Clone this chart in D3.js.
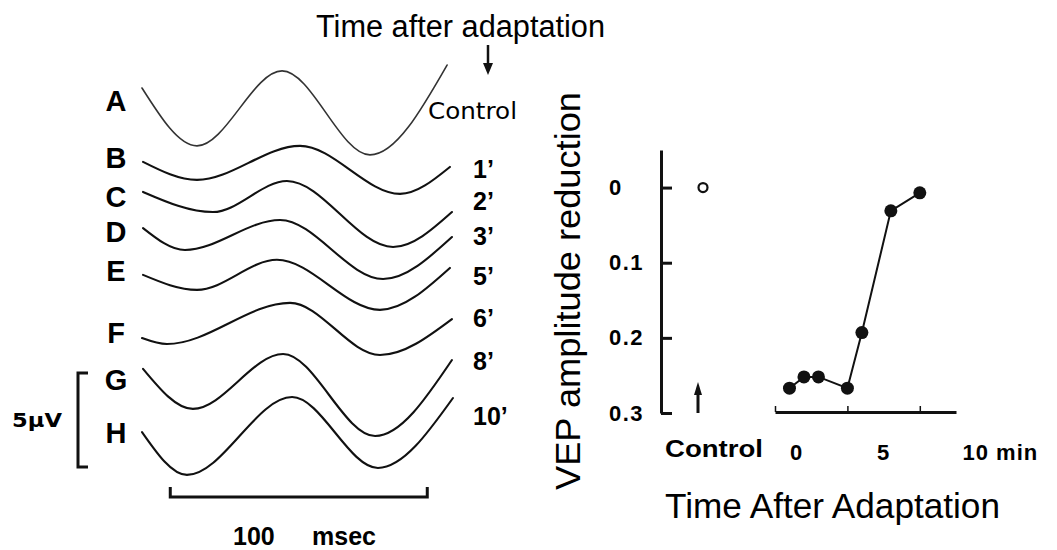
<!DOCTYPE html>
<html><head><meta charset="utf-8">
<script src="https://cdn.jsdelivr.net/npm/d3@7"></script>
<style>body{margin:0;background:#fff} svg{display:block}</style>
</head><body>
<svg id="c" width="1057" height="550"></svg>
<script>
// ---------------- data ----------------
const traceLetters = ["A","B","C","D","E","F","G","H"];
const traceTimeLabels = ["Control","1’","2’","3’","5’","6’","8’","10’"];
// VEP traces: [msec, µV relative to the trace's own baseline]
const traceA = [[0,0.69],[21.4,-2.39],[54.5,1.60],[88.7,-2.87],[118.7,1.91]];
const traceB = [[0.4,-0.21],[21.4,-1.17],[61.5,0.64],[100.4,-1.91],[119.8,-0.48]];
const traceC = [[0.4,0.27],[27.6,-0.80],[56.4,0.85],[97.7,-2.66],[120.6,-0.80]];
const traceD = [[0.4,0.21],[16.7,-0.96],[53.7,0.64],[93.8,-2.50],[120.6,-0.27]];
const traceE = [[0.4,-0.21],[21.4,-1.01],[52.5,0.59],[92.6,-2.07],[119.8,0.16]];
const traceF = [[0,-0.27],[9.7,-0.59],[57.6,1.60],[92.6,-1.17],[120.6,0.74]];
const traceG = [[0.4,0.59],[19.8,-1.54],[54.9,1.38],[90.7,-2.98],[120.6,1.06]];
const traceH = [[0,0.05],[17.5,-2.23],[58.4,1.91],[91.8,-1.86],[121,1.86]];
// vertical display offset of each trace (µV)
const traceOffsets = [19.47,16.44,14.36,12.5,10.43,7.13,4.63,1.81];
const scaleBarMsec = [11,111];
const scaleBarMicroV = [0,5];

// recovery curve
const recoveryMinutes = [1,2,3,5,6,8,10];
const recoveryReduction = [0.267,0.252,0.252,0.267,0.193,0.031,0.007];
const controlReduction = [0];
const yTicks = [0,0.1,0.2,0.3];
const xTicks = [0,5,10];
const xTickLabels = ["0","5","10 min"];

// ---------------- drawing ----------------
const svg = d3.select("#c");
const FONT = "'Liberation Sans', Arial, sans-serif";
const traces = [traceA,traceB,traceC,traceD,traceE,traceF,traceG,traceH];

const xT = d3.scaleLinear().domain([0,100]).range([142,399]);
const yT = d3.scaleLinear().domain([0,5]).range([467,373]);

const left = svg.append("g");
traces.forEach((tr,i)=>{
  const off = traceOffsets[i];
  const line = d3.line().x(d=>xT(d[0])).y(d=>yT(d[1]+off)).curve(d3.curveMonotoneX);
  left.append("path").attr("d", line(tr)).attr("fill","none")
    .attr("stroke", i===0 ? "#333" : "#111").attr("stroke-width", i===0 ? 1.6 : 2.1)
    .attr("stroke-linecap","round");
  left.append("text").attr("x",116).attr("y",yT(off)).attr("dy","0.35em")
    .attr("text-anchor","middle").attr("font-family",FONT).attr("font-weight","bold")
    .attr("font-size",29).attr("fill","#000").text(traceLetters[i]);
});

// time labels at right of traces
const timeLabelBaselines = [178,210,245,285,327,370,425];
traceTimeLabels.slice(1).forEach((t,i)=>{
  left.append("text").attr("x",473).attr("y",timeLabelBaselines[i])
    .attr("font-family",FONT).attr("font-weight","bold").attr("font-size",25).text(t);
});
left.append("text").attr("x",428).attr("y",119).attr("font-family","'DejaVu Sans', sans-serif")
  .attr("font-size",23).attr("textLength",89).attr("lengthAdjust","spacingAndGlyphs").text(traceTimeLabels[0]);

// title and arrow
svg.append("text").attr("x",316).attr("y",37).attr("font-family",FONT).attr("font-size",31)
  .attr("textLength",289).attr("lengthAdjust","spacingAndGlyphs").text("Time after adaptation");
svg.append("line").attr("x1",488).attr("x2",488).attr("y1",45).attr("y2",66).attr("stroke","#111").attr("stroke-width",2.5);
svg.append("path").attr("d","M483,63 L493,63 L488,75 Z").attr("fill","#111");

// 100 msec scale bar
const barY = 497;
svg.append("path").attr("d",`M${xT(scaleBarMsec[0])},${barY-10} L${xT(scaleBarMsec[0])},${barY} L${xT(scaleBarMsec[1])},${barY} L${xT(scaleBarMsec[1])},${barY-10}`)
  .attr("fill","none").attr("stroke","#111").attr("stroke-width",3);
svg.append("text").attr("x",233).attr("y",545).attr("font-family",FONT).attr("font-weight","bold").attr("font-size",25).text("100");
svg.append("text").attr("x",312).attr("y",545).attr("font-family",FONT).attr("font-weight","bold").attr("font-size",25).text("msec");

// 5 µV bracket
svg.append("path").attr("d",`M88,${yT(scaleBarMicroV[1])} L78,${yT(scaleBarMicroV[1])} L78,${yT(scaleBarMicroV[0])} L88,${yT(scaleBarMicroV[0])}`)
  .attr("fill","none").attr("stroke","#111").attr("stroke-width",3);
svg.append("text").attr("x",12).attr("y",427).attr("font-family","'DejaVu Sans', sans-serif")
  .attr("font-size",20).attr("font-weight","bold").attr("textLength",50).attr("lengthAdjust","spacingAndGlyphs").text("5μV");

// ---------------- right chart ----------------
const y = d3.scaleLinear().domain([-0.05,0.3]).range([150,413]);
const x = d3.scaleLinear().domain([0,12.5]).range([775,956]);
const xLab = d3.scaleLinear().domain([0,10]).range([796,970]);
const xCtrl = d3.scalePoint().domain(["Control"]).range([690,716]);

const yAx = svg.append("g").attr("transform","translate(661,0)")
  .call(d3.axisLeft(y).tickValues(yTicks).tickSize(-11).tickSizeOuter(0).tickFormat(d=>d===0?"0":d3.format(".1f")(d)));
yAx.select(".domain").attr("stroke","#111").attr("stroke-width",3);
yAx.selectAll(".tick line").attr("stroke","#111").attr("stroke-width",3);
yAx.selectAll(".tick text").attr("x",-52).attr("text-anchor","start")
  .attr("font-family",FONT).attr("font-weight","bold").attr("font-size",22).attr("fill","#000")
  .attr("letter-spacing",1.5);

const xAx = svg.append("g").attr("transform","translate(0,412)")
  .call(d3.axisBottom(x).tickValues(xTicks).tickSize(-6).tickSizeOuter(0).tickFormat(""));
xAx.select(".domain").attr("stroke","#111").attr("stroke-width",3);
xAx.selectAll(".tick line").attr("stroke","#111").attr("stroke-width",1.5);

const xLabAx = svg.append("g").attr("transform","translate(0,441)")
  .call(d3.axisBottom(xLab).tickValues(xTicks).tickSize(0).tickFormat((d,i)=>xTickLabels[i]));
xLabAx.select(".domain").remove();
xLabAx.selectAll(".tick text").attr("font-family",FONT).attr("font-weight","bold").attr("font-size",22)
  .attr("fill","#000").attr("dy","0.71em").attr("letter-spacing",1);
xLabAx.selectAll(".tick text").filter((d,i)=>i===2).attr("text-anchor","start").attr("dx",-8);

// control label
svg.append("text").attr("x",xCtrl("Control")+11).attr("y",457).attr("text-anchor","middle")
  .attr("font-family",FONT).attr("font-weight","bold").attr("font-size",24)
  .attr("textLength",98).attr("lengthAdjust","spacingAndGlyphs").text("Control");

// recovery line and points
const pts = recoveryMinutes.map((m,i)=>[m,recoveryReduction[i]]);
svg.append("path").attr("d", d3.line().x(d=>x(d[0])).y(d=>y(d[1]))(pts))
  .attr("fill","none").attr("stroke","#111").attr("stroke-width",2);
svg.selectAll("circle.pt").data(pts).join("circle").attr("class","pt")
  .attr("cx",d=>x(d[0])).attr("cy",d=>y(d[1])).attr("r",6.5).attr("fill","#111");
svg.selectAll("circle.ctrl").data(controlReduction).join("circle").attr("class","ctrl")
  .attr("cx",xCtrl("Control")).attr("cy",d=>y(d)).attr("r",4.5).attr("fill","none")
  .attr("stroke","#111").attr("stroke-width",2.2);
// arrow at control
const ax = xCtrl("Control")-5;
svg.append("line").attr("x1",ax).attr("x2",ax).attr("y1",y(0.3)).attr("y2",y(0.3)-20).attr("stroke","#111").attr("stroke-width",3);
svg.append("path").attr("d",`M${ax-4},${y(0.3)-18} L${ax+4},${y(0.3)-18} L${ax},${y(0.3)-31} Z`).attr("fill","#111");

// axis titles
svg.append("text").attr("transform","translate(580,291) rotate(-90)").attr("text-anchor","middle")
  .attr("font-family",FONT).attr("font-size",35).attr("textLength",398).attr("lengthAdjust","spacingAndGlyphs")
  .text("VEP amplitude reduction");
svg.append("text").attr("x",665).attr("y",518).attr("font-family",FONT).attr("font-size",35)
  .attr("textLength",335).attr("lengthAdjust","spacingAndGlyphs").text("Time After Adaptation");
</script>
</body></html>
